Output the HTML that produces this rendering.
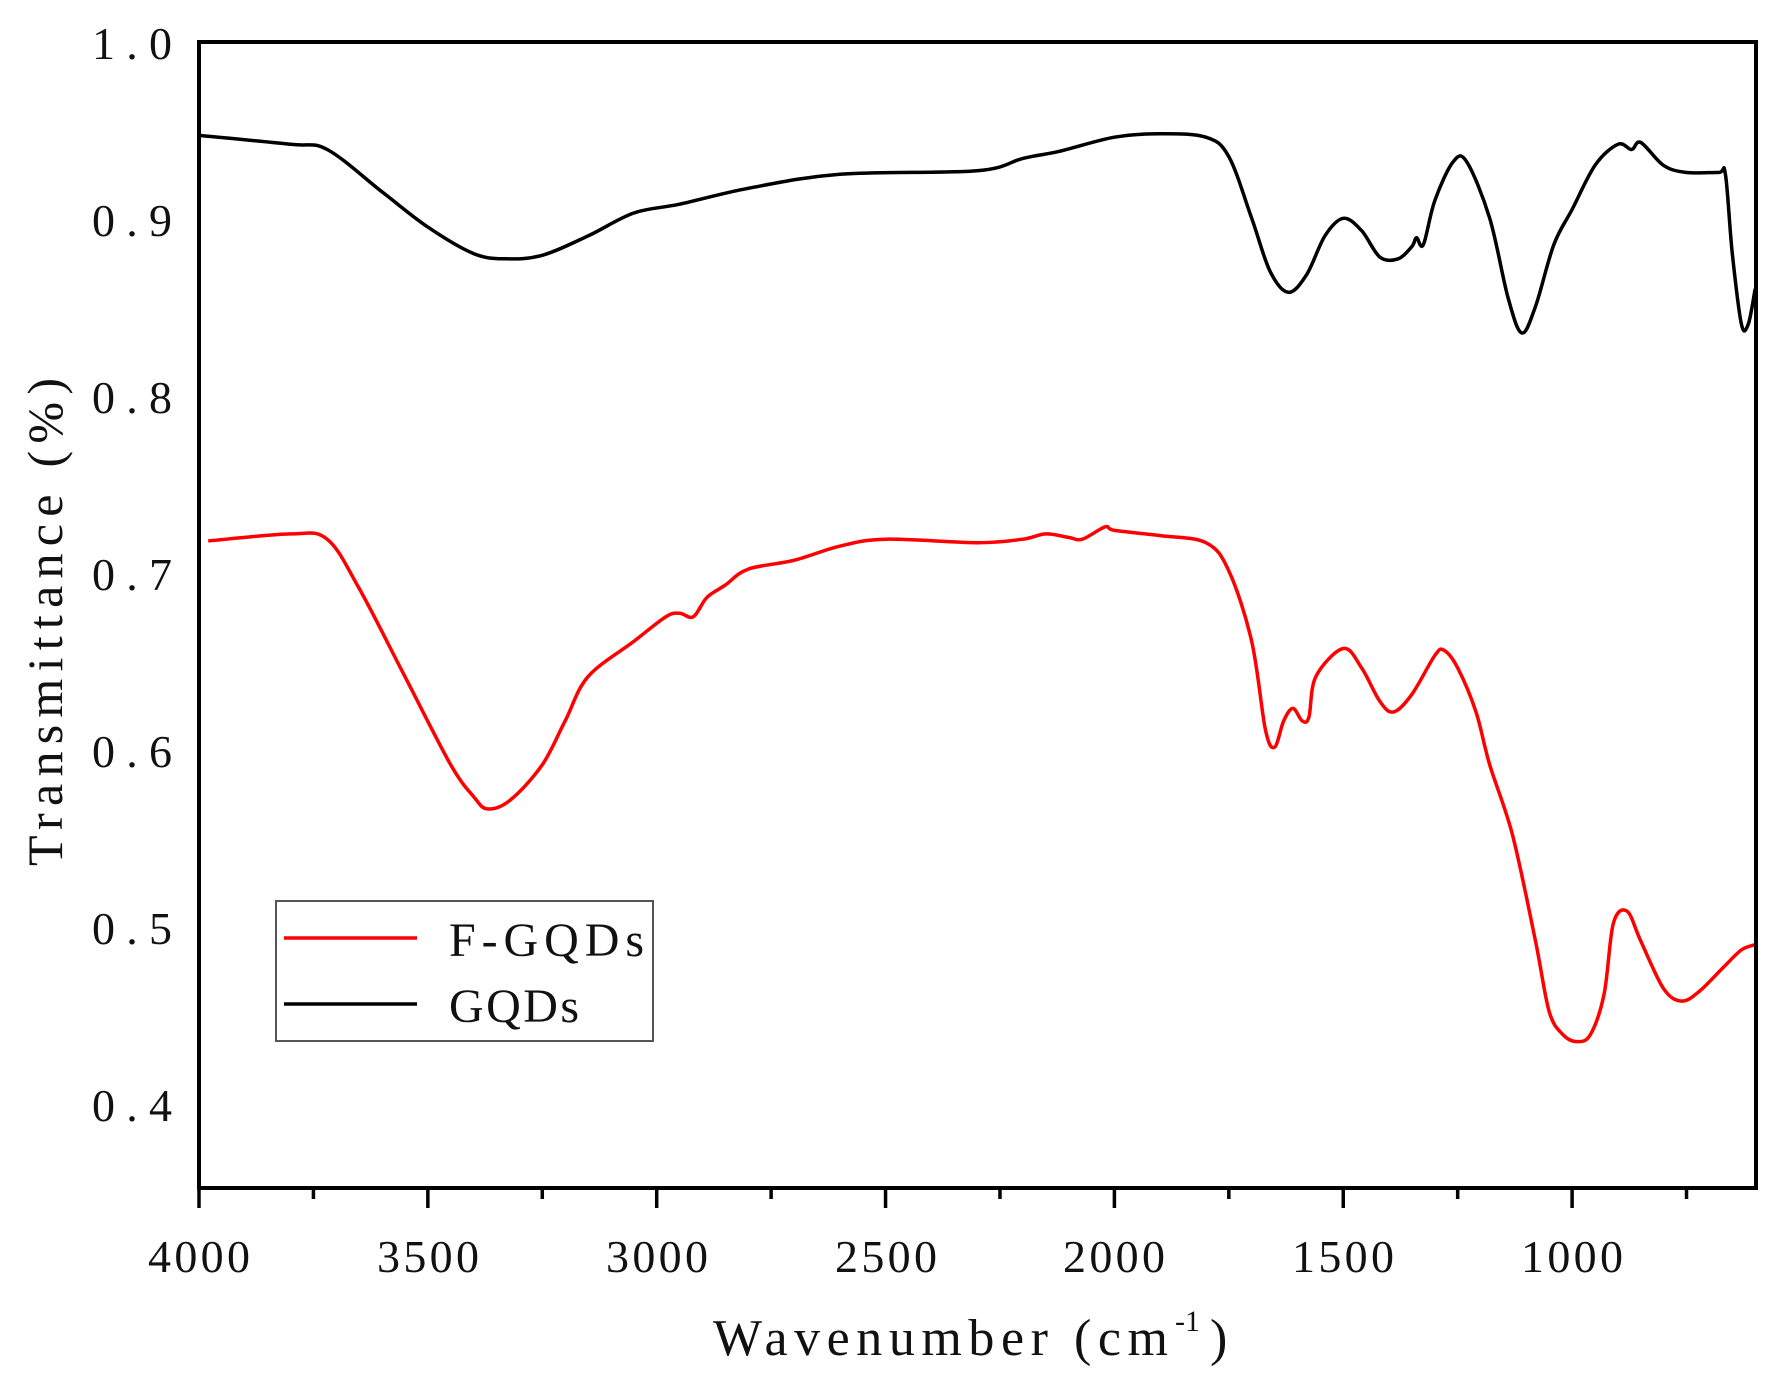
<!DOCTYPE html>
<html><head><meta charset="utf-8"><style>body{margin:0;background:#fff}svg{display:block}</style></head>
<body>
<svg id="s" width="1779" height="1382" viewBox="0 0 1779 1382" xmlns="http://www.w3.org/2000/svg" font-family="Liberation Serif, serif">
<rect x="0" y="0" width="1779" height="1382" fill="#fff"/>
<g id="ticks" stroke="#000" stroke-width="3.5"></g>
<path id="gq" fill="none" stroke="#000" stroke-width="3.5"/>
<path id="fg" fill="none" stroke="#ff0000" stroke-width="3.5"/>
<rect x="199" y="42" width="1557" height="1146" fill="none" stroke="#000" stroke-width="4"/>
<g font-size="46" text-anchor="end" fill="#111">
<text x="172" y="59" textLength="80">1.0</text><text x="172" y="236" textLength="80">0.9</text><text x="172" y="413" textLength="80">0.8</text>
<text x="172" y="590" textLength="80">0.7</text><text x="172" y="767" textLength="80">0.6</text><text x="172" y="944" textLength="80">0.5</text><text x="172" y="1121" textLength="80">0.4</text>
</g>
<g font-size="46" fill="#111">
<text x="148" y="1272" textLength="102">4000</text><text x="377" y="1272" textLength="102">3500</text><text x="606" y="1272" textLength="102">3000</text>
<text x="835" y="1272" textLength="102">2500</text><text x="1063" y="1272" textLength="102">2000</text><text x="1292" y="1272" textLength="102">1500</text><text x="1521" y="1272" textLength="102">1000</text>
</g>
<text x="713" y="1355" font-size="52" fill="#111" textLength="455">Wavenumber (cm</text>
<text x="1175" y="1331" font-size="30" fill="#111">-1</text>
<text x="1210" y="1355" font-size="52" fill="#111">)</text>
<text transform="translate(62,622) rotate(-90)" x="-244" y="0" font-size="50" fill="#111" textLength="488">Transmittance (%)</text>
<rect x="276" y="901" width="377" height="140" fill="#fff" stroke="#555" stroke-width="2"/>
<line x1="284" y1="938" x2="417" y2="938" stroke="#f00" stroke-width="3.5"/>
<line x1="284" y1="1004" x2="417" y2="1004" stroke="#000" stroke-width="3.5"/>
<text x="449" y="956" font-size="48" fill="#111" textLength="195">F-GQDs</text>
<text x="449" y="1022" font-size="48" fill="#111" textLength="130">GQDs</text>
</svg>
<script>
function X(w){return 199+(4000-w)*0.4577}
function Y(t){return 42+(1-t)*1763}
function path(d){var p=d.map(function(a){return [X(a[0]),Y(a[1])]});var s="M"+p[0][0].toFixed(1)+","+p[0][1].toFixed(1);
for(var i=0;i<p.length-1;i++){var p0=p[i-1]||p[i],p1=p[i],p2=p[i+1],p3=p[i+2]||p2;
var c1=[p1[0]+(p2[0]-p0[0])/6,p1[1]+(p2[1]-p0[1])/6],c2=[p2[0]-(p3[0]-p1[0])/6,p2[1]-(p3[1]-p1[1])/6];
s+="C"+c1[0].toFixed(1)+","+c1[1].toFixed(1)+" "+c2[0].toFixed(1)+","+c2[1].toFixed(1)+" "+p2[0].toFixed(1)+","+p2[1].toFixed(1);}return s;}
var g=[[4000,.947],[3800,.942],[3720,.939],[3600,.915],[3500,.895],[3400,.88],[3330,.877],[3250,.879],[3150,.89],[3050,.903],[2950,.908],[2800,.917],[2600,.925],[2300,.927],[2200,.934],[2120,.938],[2000,.946],[1900,.948],[1800,.946],[1750,.935],[1700,.90],[1660,.87],[1620,.858],[1580,.868],[1540,.89],[1500,.900],[1460,.893],[1420,.878],[1380,.877],[1350,.884],[1340,.889],[1325,.885],[1300,.91],[1260,.932],[1230,.932],[1180,.9],[1140,.855],[1110,.835],[1080,.85],[1040,.885],[1000,.905],[950,.93],[900,.942],[870,.939],[850,.943],[800,.93],[750,.926],[680,.926],[665,.925],[650,.88],[630,.84],[615,.84],[600,.86]];
var f=[[3980,.717],[3800,.721],[3720,.718],[3650,.69],[3550,.64],[3450,.59],[3400,.572],[3370,.565],[3320,.57],[3250,.59],[3200,.615],[3150,.64],[3050,.66],[2980,.674],[2950,.676],[2920,.674],[2890,.685],[2850,.692],[2800,.701],[2700,.706],[2600,.714],[2500,.718],[2300,.716],[2200,.718],[2150,.721],[2100,.719],[2070,.718],[2020,.725],[2000,.723],[1900,.72],[1800,.716],[1750,.70],[1700,.66],[1670,.61],[1650,.60],[1630,.615],[1610,.622],[1590,.615],[1575,.617],[1560,.64],[1500,.656],[1460,.645],[1420,.626],[1390,.62],[1350,.63],[1300,.652],[1280,.655],[1250,.645],[1210,.62],[1180,.59],[1130,.55],[1080,.49],[1050,.45],[1020,.437],[990,.433],[960,.437],[930,.46],[910,.5],[880,.507],[850,.49],[800,.463],[760,.456],[720,.462],[670,.475],[630,.485],[600,.488]];
document.getElementById("gq").setAttribute("d",path(g));
document.getElementById("fg").setAttribute("d",path(f));
var t="";for(var w=4000;w>=750;w-=250){var x=X(w),L=(w%500==0)?20:11;t+='<line x1="'+x+'" y1="1188" x2="'+x+'" y2="'+(1188+L)+'"/>';}
document.getElementById("ticks").innerHTML=t;
</script>
</body></html>
